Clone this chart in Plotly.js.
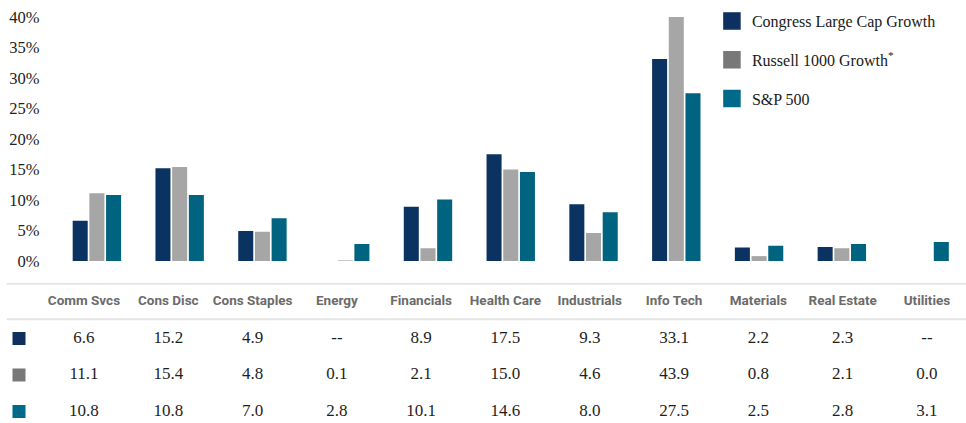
<!DOCTYPE html>
<html>
<head>
<meta charset="utf-8">
<script src="https://cdn.plot.ly/plotly-3.0.1.min.js"></script>
<style>html,body{margin:0;padding:0;background:#fff;}#chart{width:966px;height:423px;}</style>
</head>
<body>
<div id="chart"></div>
<script>
// ---- data ----
const categories = ["Comm Svcs","Cons Disc","Cons Staples","Energy","Financials","Health Care","Industrials","Info Tech","Materials","Real Estate","Utilities"];
const seriesNames = ["Congress Large Cap Growth","Russell 1000 Growth<sup>*</sup>","S&P 500"];
const congress = [6.6,15.2,4.9,null,8.9,17.5,9.3,33.1,2.2,2.3,null];
const russell  = [11.1,15.4,4.8,0.1,2.1,15.0,4.6,43.9,0.8,2.1,0.0];
const sp500    = [10.8,10.8,7.0,2.8,10.1,14.6,8.0,27.5,2.5,2.8,3.1];
const yTicks = [0,5,10,15,20,25,30,35,40];
const yTickText = ["0%","5%","10%","15%","20%","25%","30%","35%","40%"];

// ---- style ----
const barColors = ["#0b3361","#a6a6a6","#00637f"];
const keyColors = ["#0d3060","#787878","#006a8a"];
const serif = "Liberation Serif, DejaVu Serif, serif";
const headFont = "Roboto, Liberation Sans, sans-serif";
const H = 423;
const px = p => 1 - p / H;

const allSeries = [congress, russell, sp500];
const traces = [];
allSeries.forEach((vals, k) => {
  traces.push({
    type: "bar", x: categories, y: vals, name: seriesNames[k],
    marker: {color: barColors[k]}, showlegend: false,
    xaxis: "x", yaxis: "y", hoverinfo: "skip"
  });
});
// legend keys
allSeries.forEach((vals, k) => {
  traces.push({
    type: "scatter", mode: "markers", x: [null], y: [null], name: seriesNames[k],
    marker: {symbol: "square", size: 16, color: keyColors[k], line: {width: 1.5, color: keyColors[k]}},
    legendgroup: "g" + k, showlegend: true, xaxis: "x", yaxis: "y"
  });
});

// ---- table (second subplot) ----
const idx = categories.map((c, i) => i);
const keyX = -0.771;
traces.push({
  type: "scatter", mode: "text", x: idx, y: categories.map(() => 0), text: categories,
  textfont: {family: headFont, size: 13.5, color: "#6b6b6b", weight: "bold"},
  xaxis: "x2", yaxis: "y2", showlegend: false, hoverinfo: "skip", cliponaxis: false
});
allSeries.forEach((vals, k) => {
  traces.push({
    type: "scatter", mode: "text", x: idx, y: vals.map(() => k + 1),
    text: vals.map(v => v === null ? "--" : v.toFixed(1)),
    textfont: {family: serif, size: 17, color: "#1e1e1e"},
    xaxis: "x2", yaxis: "y2", showlegend: false, hoverinfo: "skip", cliponaxis: false
  });
});
traces.push({
  type: "scatter", mode: "markers", x: [keyX, keyX, keyX], y: [1, 2, 3],
  marker: {symbol: "square", size: 13, color: keyColors},
  xaxis: "x2", yaxis: "y2", showlegend: false, hoverinfo: "skip", cliponaxis: false
});

const layout = {
  width: 966, height: 423,
  margin: {l: 0, r: 0, t: 0, b: 0},
  paper_bgcolor: "#ffffff", plot_bgcolor: "rgba(0,0,0,0)",
  barmode: "group", bargap: 0.395, bargroupgap: 0.1,
  showlegend: true,
  legend: {
    x: 0.737, xanchor: "left", y: px(4), yanchor: "top",
    font: {family: serif, size: 16, color: "#1a1a1a"},
    tracegroupgap: 15, bgcolor: "rgba(0,0,0,0)", itemclick: false
  },
  xaxis: {
    domain: [55.5/966, 1], type: "category", showticklabels: false,
    showgrid: false, zeroline: false, showline: false, ticks: "", fixedrange: true
  },
  yaxis: {
    domain: [px(261), px(17)], range: [0, 40], tickvals: yTicks, ticktext: yTickText,
    showgrid: false, zeroline: false, showline: false, ticks: "",
    ticklabelstandoff: 15,
    tickfont: {family: serif, size: 16.5, color: "#222222"}, fixedrange: true
  },
  xaxis2: {
    domain: [0, 1], anchor: "y2", range: [-0.9964, 10.463], visible: false, fixedrange: true
  },
  yaxis2: {
    domain: [0, px(283)], anchor: "x2", range: [3.315, -0.52], visible: false, fixedrange: true
  },
  shapes: [
    {type: "line", xref: "paper", yref: "y2", x0: 0.007, x1: 1, y0: -0.5, y1: -0.5, line: {color: "#e4e4e4", width: 2}},
    {type: "line", xref: "paper", yref: "y2", x0: 0.007, x1: 1, y0: 0.47, y1: 0.47, line: {color: "#e4e4e4", width: 2}}
  ]
};

Plotly.newPlot("chart", traces, layout, {displayModeBar: false, staticPlot: true});
</script>
</body>
</html>
